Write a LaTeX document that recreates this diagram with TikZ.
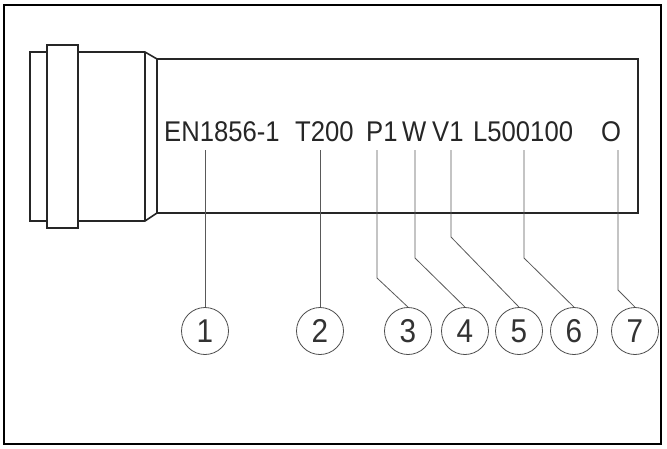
\documentclass[tikz,border=0pt]{standalone}
\usepackage{fontspec}
\setmainfont{Liberation Sans}
\newcommand{\sq}[1]{\scalebox{0.9}[1]{#1}}
\begin{document}
\begin{tikzpicture}[x=1pt,y=-1pt,
  pipe/.style={line width=1.6pt,draw=black!85},
  lbl/.style={inner sep=0pt,anchor=base west,font=\fontsize{28.5}{28}\selectfont,text=black!85},
  num/.style={circle,draw=black!70,line width=0.8pt,minimum size=47pt,inner sep=0pt,font=\fontsize{33}{33}\selectfont,text=black!80},
  lead/.style={draw=black!65,line width=0.8pt}]
\useasboundingbox (0,0) rectangle (667,448);
\draw[line width=1.2pt] (4,5) rectangle (661,444);
% pipe
\draw[pipe] (30,52) rectangle (47,221);
\draw[pipe] (47,45) rectangle (78,228);
\draw[pipe] (78,52) -- (145,52) -- (157,59) -- (638,59) -- (638,213) -- (157,213) -- (145,221) -- (78,221);
\draw[pipe] (145,52) -- (145,221);
\draw[pipe] (157,59) -- (157,213);
% labels
\node[lbl] (t1) at (164,141) {\sq{EN1856-1}};
\node[lbl] (t2) at (295,141) {\sq{T200}};
\node[lbl] (t3) at (366,141) {\sq{P1}};
\node[lbl] (t4) at (402,141) {\sq{W}};
\node[lbl] (t5) at (432,141) {\sq{V1}};
\node[lbl] (t6) at (473,141) {\sq{L500100}};
\node[lbl] (t7) at (601,141) {\sq{O}};
% circles
\foreach \i/\x in {1/205,2/320,3/408,4/465,5/519,6/574,7/635}
  \node[num] (c\i) at (\x,331) {\sq{\i}};
% leaders
\coordinate (s1) at (205,150); \coordinate (s2) at (320,150);
\draw[lead] (s1) -- (c1.north);
\draw[lead] (s2) -- (c2.north);
\coordinate (s3) at (377,150); \coordinate (b3) at (377,278);
\coordinate (s4) at (415,150); \coordinate (b4) at (415,258);
\coordinate (s5) at (451,150); \coordinate (b5) at (451,237);
\coordinate (s6) at (524,150); \coordinate (b6) at (524,258);
\coordinate (s7) at (618,150); \coordinate (b7) at (618,290);
\foreach \i in {3,...,7} \draw[lead] (s\i) -- (b\i) -- (c\i.north);
\end{tikzpicture}
\end{document}
